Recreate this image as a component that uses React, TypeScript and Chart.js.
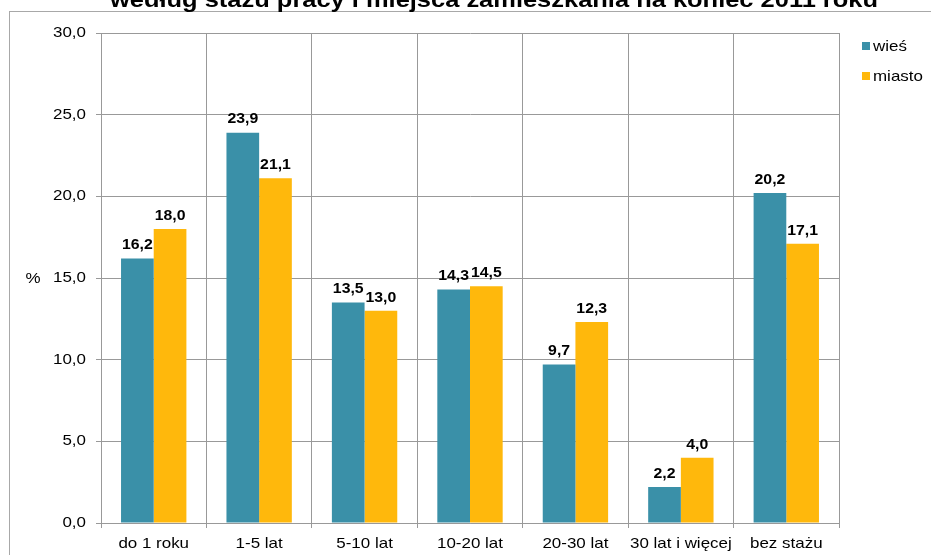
import React, { useEffect, useRef } from 'react';
import { Chart, registerables } from 'chart.js';

Chart.register(...registerables);

const categories = ['do 1 roku', '1-5 lat', '5-10 lat', '10-20 lat', '20-30 lat', '30 lat i więcej', 'bez stażu'];
const wiesValues = [16.2, 23.9, 13.5, 14.3, 9.7, 2.2, 20.2];
const miastoValues = [18.0, 21.1, 13.0, 14.5, 12.3, 4.0, 17.1];
const seriesNames = ['wieś', 'miasto'];
const seriesColors = ['#3a90a8', '#ffb80c'];
const yTickValues = [0, 5, 10, 15, 20, 25, 30];
const titleText = 'według stażu pracy i miejsca zamieszkania na koniec 2011 roku';
const yAxisTitle = '%';

const FONT = '"Liberation Sans", Arial, sans-serif';
const SX = 1.13;

const fmt = (v: number) => v.toFixed(1).replace('.', ',');

function drawText(ctx: CanvasRenderingContext2D, text: string, x: number, y: number, font: string, align: 'left' | 'center' | 'right', baseline: CanvasTextBaseline, sx = SX) {
  ctx.save();
  ctx.font = font;
  ctx.fillStyle = '#000';
  ctx.textBaseline = baseline;
  ctx.textAlign = 'left';
  const w = ctx.measureText(text).width * sx;
  let left = x;
  if (align === 'center') left = x - w / 2;
  if (align === 'right') left = x - w;
  ctx.translate(left, y);
  ctx.scale(sx, 1);
  ctx.fillText(text, 0, 0);
  ctx.restore();
}

const decorPlugin = {
  id: 'decor',
  beforeDraw(chart: any) {
    const ctx = chart.ctx as CanvasRenderingContext2D;
    ctx.save();
    ctx.fillStyle = '#fff';
    ctx.fillRect(0, 0, chart.width, chart.height);
    ctx.strokeStyle = '#a8a8a8';
    ctx.lineWidth = 1;
    ctx.strokeRect(9.5, 11.5, chart.width + 20, chart.height + 20);
    ctx.restore();
  },
  afterDraw(chart: any) {
    const ctx = chart.ctx as CanvasRenderingContext2D;
    // title (clipped at top)
    ctx.save();
    ctx.font = 'bold 22px ' + FONT;
    const tw = ctx.measureText(titleText).width;
    ctx.restore();
    drawText(ctx, titleText, 494, 7, 'bold 22px ' + FONT, 'center', 'alphabetic', 768 / tw);
    // y tick labels
    const ys = chart.scales.y;
    yTickValues.forEach((v) => {
      drawText(ctx, fmt(v), 86, ys.getPixelForValue(v), '15px ' + FONT, 'right', 'middle');
    });
    // x tick labels
    const xs = chart.scales.x;
    categories.forEach((c, i) => {
      drawText(ctx, c, xs.getPixelForValue(i), 544, '15px ' + FONT, 'center', 'middle');
    });
    // y axis title
    drawText(ctx, yAxisTitle, 33, 279, '15px ' + FONT, 'center', 'middle');
    // legend
    const legendY = [46, 76];
    seriesNames.forEach((n, i) => {
      ctx.save();
      ctx.fillStyle = seriesColors[i];
      ctx.fillRect(862, legendY[i] - 4, 8, 8);
      ctx.restore();
      drawText(ctx, n, 873, legendY[i] + 1, '15px ' + FONT, 'left', 'middle');
    });
  },
  afterDatasetsDraw(chart: any) {
    const ctx = chart.ctx as CanvasRenderingContext2D;
    chart.data.datasets.forEach((ds: any, di: number) => {
      const meta = chart.getDatasetMeta(di);
      meta.data.forEach((bar: any, i: number) => {
        drawText(ctx, fmt(ds.data[i]), bar.x, bar.y - 6, 'bold 14px ' + FONT, 'center', 'bottom');
      });
    });
  },
};

export default function App() {
  const ref = useRef<HTMLCanvasElement | null>(null);
  useEffect(() => {
    if (!ref.current) return;
    const chart = new Chart(ref.current, {
      type: 'bar',
      data: {
        labels: categories,
        datasets: [
          { label: seriesNames[0], data: wiesValues, backgroundColor: seriesColors[0], categoryPercentage: 0.62, barPercentage: 1.0 },
          { label: seriesNames[1], data: miastoValues, backgroundColor: seriesColors[1], categoryPercentage: 0.62, barPercentage: 1.0 },
        ],
      },
      options: {
        animation: false,
        responsive: false,
        maintainAspectRatio: false,
        layout: { padding: { top: 33, right: 92, left: 0, bottom: 0 } },
        plugins: { legend: { display: false }, title: { display: false }, tooltip: { enabled: false } },
        scales: {
          x: {
            grid: { offset: true, color: '#999999', tickLength: 5, drawTicks: true },
            border: { color: '#999999' },
            ticks: { display: false },
            afterFit: (s: any) => { s.height = 32; },
          },
          y: {
            min: 0,
            max: 30,
            ticks: { display: false, stepSize: 5 },
            grid: { color: '#999999', tickLength: 5, drawTicks: true },
            border: { color: '#999999' },
            afterFit: (s: any) => { s.width = 101; },
          },
        },
      },
      plugins: [decorPlugin],
    });
    return () => chart.destroy();
  }, []);
  return (
    <div style={{ position: 'fixed', left: 0, top: 0, width: 931, height: 555 }}>
      <canvas ref={ref} width={931} height={555} style={{ width: 931, height: 555, display: 'block' }} />
    </div>
  );
}
